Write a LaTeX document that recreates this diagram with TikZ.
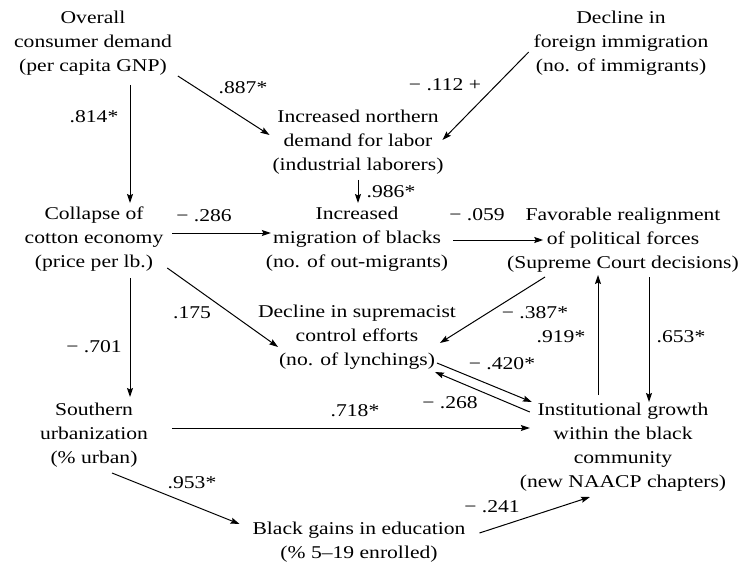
\documentclass[tikz,border=0pt]{standalone}
\usepackage{fontspec}
\setmainfont{Liberation Serif}[FakeStretch=1.2]
\usetikzlibrary{arrows.meta}
\tikzstyle{var} = [inner sep=0pt, outer sep=0pt, text centered, font=\fontsize{18}{24}\selectfont]
\tikzstyle{coef} = [inner sep=0pt, outer sep=0pt, font=\fontsize{18}{24}\selectfont]
\tikzstyle{arrow} = [line width=1pt, -{Stealth[length=9pt, width=6pt, inset=1.5pt]}]

\begin{document}
\begin{tikzpicture}[x=1pt, y=-1pt]
	\useasboundingbox (0,0) rectangle (742,567);
	\node (gnp) [var] at (93,43) {\begin{tabular}{c}Overall\\consumer demand\\(per capita GNP)\end{tabular}};
	\node (immig) [var] at (621,43) {\begin{tabular}{c}Decline in\\foreign immigration\\(no. of immigrants)\end{tabular}};
	\node (labor) [var] at (358,142) {\begin{tabular}{c}Increased northern\\demand for labor\\(industrial laborers)\end{tabular}};
	\node (cotton) [var] at (94,239) {\begin{tabular}{c}Collapse of\\cotton economy\\(price per lb.)\end{tabular}};
	\node (migr) [var] at (357,239) {\begin{tabular}{c}Increased\\migration of blacks\\(no. of out-migrants)\end{tabular}};
	\node (polit) [var] at (623,240) {\begin{tabular}{c}Favorable realignment\\of political forces\\(Supreme Court decisions)\end{tabular}};
	\node (lynch) [var] at (357,337) {\begin{tabular}{c}Decline in supremacist\\control efforts\\(no. of lynchings)\end{tabular}};
	\node (urban) [var] at (94,435) {\begin{tabular}{c}Southern\\urbanization\\(\% urban)\end{tabular}};
	\node (inst) [var] at (623,447) {\begin{tabular}{c}Institutional growth\\within the black\\community\\(new NAACP chapters)\end{tabular}};
	\node (educ) [var] at (359,542) {\begin{tabular}{c}Black gains in education\\(\% 5–19 enrolled)\end{tabular}};

	\draw [arrow] ([shift={(37,6)}]gnp.south) -- ([shift={(36,0)}]cotton.north);
	\draw [arrow] ([shift={(0,-3)}]gnp.south east) -- ([shift={(3,-7)}]labor.west);
	\draw [arrow] ([shift={(1,9)}]immig.west) -- ([shift={(-7,-2)}]labor.east);
	\draw [arrow] ([shift={(0,2)}]labor.south) -- ([shift={(1,0)}]migr.north);
	\draw [arrow] ([shift={(3,-6)}]cotton.east) -- ([shift={(11,-6)}]migr.west);
	\draw [arrow] ([shift={(-2,-7)}]cotton.south east) -- ([shift={(26,10)}]lynch.west);
	\draw [arrow] ([shift={(36,3)}]cotton.south) -- ([shift={(36,-2)}]urban.north);
	\draw [arrow] ([shift={(-1,1)}]migr.east) -- ([shift={(42,0)}]polit.west);
	\draw [arrow] ([shift={(-78,1)}]polit.south) -- ([shift={(-22,6)}]lynch.east);
	\draw [arrow] ([shift={(-25,-4)}]inst.north) -- ([shift={(-25,-1)}]polit.south);
	\draw [arrow] ([shift={(26,1)}]polit.south) -- ([shift={(26,3)}]inst.north);
	\draw [arrow] ([shift={(-25,26)}]lynch.east) -- ([shift={(18,-45)}]inst.west);
	\draw [arrow] ([shift={(16,-35)}]inst.west) -- ([shift={(-27,35)}]lynch.east);
	\draw [arrow] ([shift={(18,-7)}]urban.east) -- ([shift={(16,-19)}]inst.west);
	\draw [arrow] ([shift={(18,2)}]urban.south) -- ([shift={(-7,-18)}]educ.west);
	\draw [arrow] ([shift={(8,-9)}]educ.east) -- ([shift={(-33,2)}]inst.south);

	% path coefficients
	\node (c814) [coef] at (94,117) {.814*};
	\node (c887) [coef] at (243,88) {.887*};
	\node (c112) [coef] at (445,85) {− .112 +};
	\node (c986) [coef] at (391,192) {.986*};
	\node (c286) [coef] at (204,216) {− .286};
	\node (c175) [coef] at (192,313) {.175};
	\node (c701) [coef] at (94,347) {− .701};
	\node (c059) [coef] at (477,215) {− .059};
	\node (c387) [coef] at (535,313) {− .387*};
	\node (c919) [coef] at (561,337) {.919*};
	\node (c653) [coef] at (681,337) {.653*};
	\node (c420) [coef] at (502,364) {− .420*};
	\node (c268) [coef] at (450,403) {− .268};
	\node (c718) [coef] at (355,411) {.718*};
	\node (c953) [coef] at (192,483) {.953*};
	\node (c241) [coef] at (492,507) {− .241};
\end{tikzpicture}
\end{document}
